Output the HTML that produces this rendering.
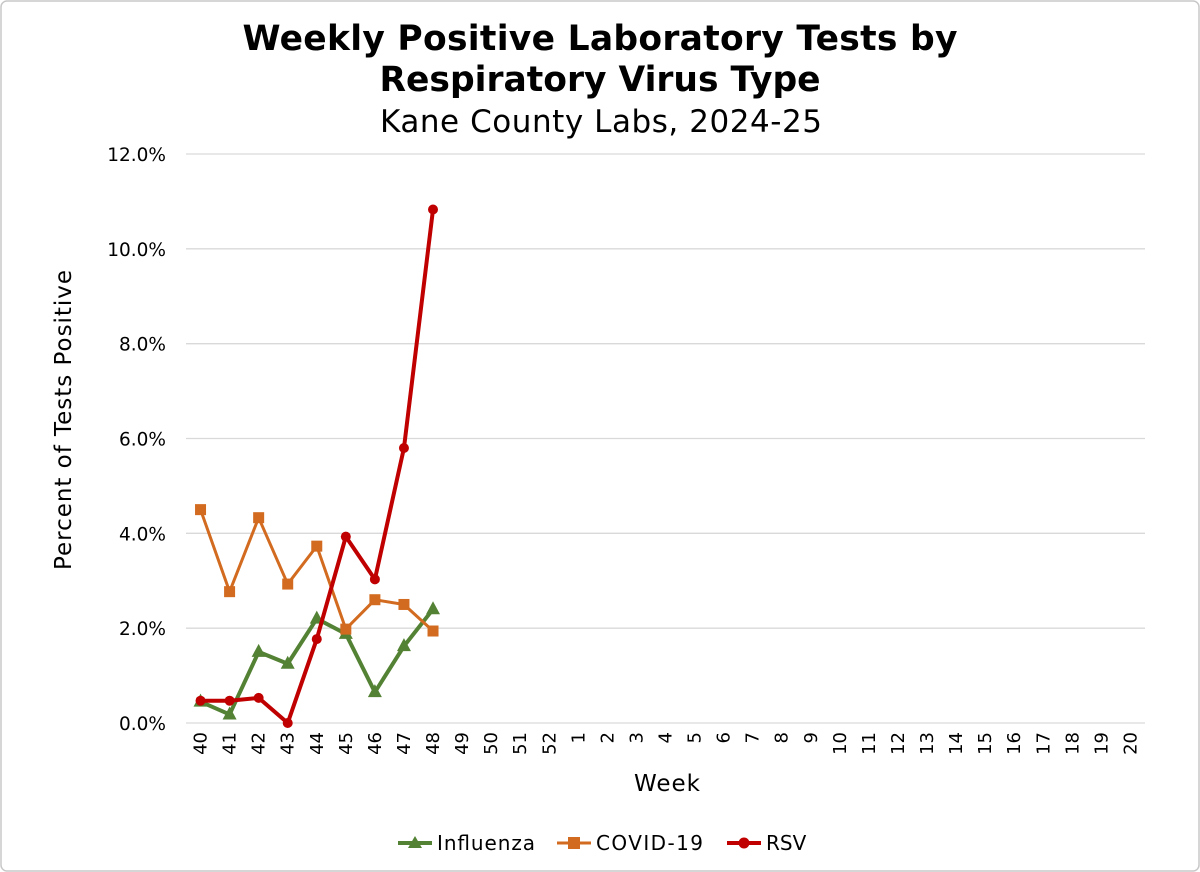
<!DOCTYPE html>
<html><head><meta charset="utf-8"><style>
html,body{margin:0;padding:0;background:#fff;}
svg{display:block;font-family:"DejaVu Sans","Liberation Sans",sans-serif;}
</style></head><body>
<svg id="chart" width="1200" height="872" viewBox="0 0 1200 872" xmlns="http://www.w3.org/2000/svg">
<rect x="1" y="1" width="1198" height="870" rx="6" fill="#fff" stroke="#c8c8c8" stroke-width="1.5"/>
<text x="600" y="50" text-anchor="middle" font-size="34.5" font-weight="bold" fill="#000" textLength="715">Weekly Positive Laboratory Tests by</text>
<text x="600" y="91" text-anchor="middle" font-size="34.5" font-weight="bold" fill="#000">Respiratory Virus Type</text>
<text x="601" y="132" text-anchor="middle" font-size="31" fill="#000" textLength="442">Kane County Labs, 2024-25</text>
<g id="grid"></g>
<g id="yticks"></g>
<g id="xticks"></g>
<g id="series"></g>
<text transform="translate(71,420) rotate(-90)" text-anchor="middle" font-size="23" fill="#000" textLength="300">Percent of Tests Positive</text>
<text x="667" y="791" text-anchor="middle" font-size="23" fill="#000" textLength="66">Week</text>
<g>
<g>
<line x1="398" y1="843" x2="432" y2="843" stroke="#548235" stroke-width="4"/>
<polygon points="415,836 422,848 408,848" fill="#548235"/>
<text x="437" y="850" font-size="20" fill="#000" textLength="98">Influenza</text></g>
<g>
<line x1="557" y1="843" x2="591" y2="843" stroke="#d26b1f" stroke-width="3"/>
<rect x="568" y="837" width="12" height="12" fill="#d26b1f"/>
<text x="596" y="850" font-size="20" fill="#000" textLength="107">COVID-19</text></g>
<g>
<line x1="727" y1="843" x2="761" y2="843" stroke="#c00000" stroke-width="4"/>
<circle cx="744" cy="843" r="5.5" fill="#c00000"/>
<text x="766" y="850" font-size="20" fill="#000">RSV</text></g>
</g>
</svg>
<script>
const weeks = ["40","41","42","43","44","45","46","47","48","49","50","51","52","1","2","3","4","5","6","7","8","9","10","11","12","13","14","15","16","17","18","19","20"];
const yTicks = [0,2,4,6,8,10,12];
const influenza = [0.45,0.18,1.5,1.25,2.2,1.88,0.65,1.62,2.4];
const covid = [4.5,2.77,4.33,2.93,3.73,1.98,2.6,2.5,1.94];
const rsv = [0.47,0.47,0.53,0.0,1.77,3.93,3.03,5.8,10.83];

const NS="http://www.w3.org/2000/svg";
const L=186,R=1145,T=154,B=723,YMAX=12;
const cw=(R-L)/weeks.length;
function xPos(i){return L+cw*(i+0.5);}
function yPos(v){return B-(v/YMAX)*(B-T);}
function mk(tag,attrs,parent){const e=document.createElementNS(NS,tag);for(const k in attrs)e.setAttribute(k,attrs[k]);parent.appendChild(e);return e;}
const grid=document.getElementById('grid'),yt=document.getElementById('yticks'),xt=document.getElementById('xticks'),ser=document.getElementById('series');
yTicks.forEach(v=>{
  const l=mk('line',{x1:L,x2:R,y1:yPos(v),y2:yPos(v),stroke:'#d9d9d9','stroke-width':1.3},grid);
  
  
  const t=mk('text',{x:166,y:yPos(v)+7,'text-anchor':'end','font-size':18.5,fill:'#000'},yt);
  t.textContent=v.toFixed(1)+'%';
  
  
});
weeks.forEach((w,i)=>{
  const t=mk('text',{transform:`translate(${xPos(i)+6},${732}) rotate(-90)`,'text-anchor':'end','font-size':18,fill:'#000'},xt);
  t.textContent=w;
  
  
});
function drawSeries(vals,color,width,marker,name){
  const g=mk('g',{},ser);
  
  
  const pl=mk('polyline',{points:vals.map((v,i)=>xPos(i)+','+yPos(v)).join(' '),fill:'none',stroke:color,'stroke-width':width,'stroke-linejoin':'round'},g);
  
  
  vals.forEach((v,i)=>{
    const x=xPos(i),y=yPos(v);let m;
    if(marker==='tri')m=mk('polygon',{points:`${x},${y-8} ${x+7},${y+5} ${x-7},${y+5}`,fill:color},g);
    else if(marker==='sq')m=mk('rect',{x:x-5.5,y:y-5.5,width:11,height:11,fill:color},g);
    else m=mk('circle',{cx:x,cy:y,r:5,fill:color},g);
    
    
  });
}
drawSeries(influenza,'#548235',4,'tri','influenza');
drawSeries(covid,'#d26b1f',3,'sq','covid');
drawSeries(rsv,'#c00000',4,'circ','rsv');
</script>
</body></html>
